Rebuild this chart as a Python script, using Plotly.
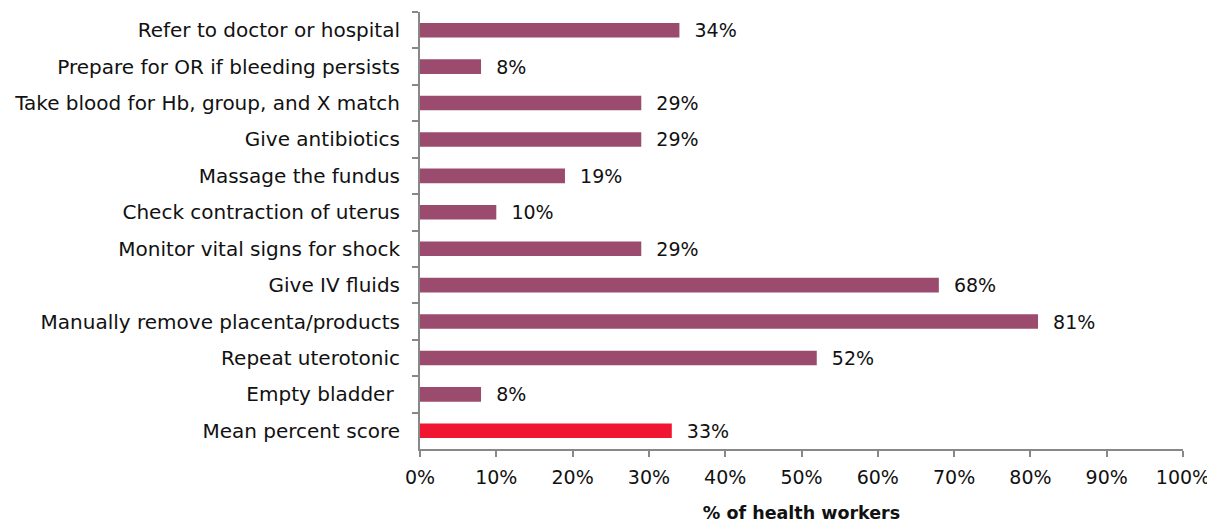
import plotly.graph_objects as go

categories = [
    "Refer to doctor or hospital",
    "Prepare for OR if bleeding persists",
    "Take blood for Hb, group, and X match",
    "Give antibiotics",
    "Massage the fundus",
    "Check contraction of uterus",
    "Monitor vital signs for shock",
    "Give IV fluids",
    "Manually remove placenta/products",
    "Repeat uterotonic",
    "Empty bladder ",
    "Mean percent score",
]
values = [34, 8, 29, 29, 19, 10, 29, 68, 81, 52, 8, 33]
tick_values = [0, 10, 20, 30, 40, 50, 60, 70, 80, 90, 100]
tick_labels = [f"{v}%" for v in tick_values]

bar_color = "#9B4B6D"
mean_color = "#F01530"
colors = [mean_color if c == "Mean percent score" else bar_color for c in categories]

FONT = "DejaVu Sans"
TXT = "#111111"

fig = go.Figure(
    go.Bar(
        x=values,
        y=categories,
        orientation="h",
        marker=dict(color=colors, line=dict(width=0)),
        text=[f"  {v}%" for v in values],
        textposition="outside",
        constraintext="none",
        textfont=dict(family=FONT, size=19, color=TXT),
        cliponaxis=False,
    )
)

# page body has an 8px margin, so the figure is shifted by 8px
fig.update_layout(
    width=1207,
    height=515,
    margin=dict(l=412, r=32, t=4, b=74),
    paper_bgcolor="white",
    plot_bgcolor="white",
    bargap=0.6,
    showlegend=False,
    font=dict(family=FONT, size=19, color=TXT),
)
fig.update_xaxes(
    range=[0, 100],
    tickvals=tick_values,
    ticktext=tick_labels,
    ticks="outside",
    ticklen=6,
    tickcolor="#888888",
    tickwidth=2,
    showline=True,
    linecolor="#888888",
    linewidth=2,
    showgrid=False,
    zeroline=False,
    automargin=False,
    ticklabelstandoff=4,
    tickfont=dict(family=FONT, size=19, color=TXT),
    title=dict(text="<b>% of health workers</b>", font=dict(family=FONT, size=17.5, color=TXT), standoff=24),
)
fig.update_yaxes(
    categoryorder="array",
    categoryarray=categories,
    autorange="reversed",
    tickson="boundaries",
    ticks="outside",
    ticklen=6,
    tickcolor="#888888",
    tickwidth=2,
    showline=True,
    linecolor="#888888",
    linewidth=2,
    showgrid=False,
    automargin=False,
    ticklabelstandoff=14,
    tickfont=dict(family=FONT, size=20, color=TXT),
)

fig.write_html("out.html")
